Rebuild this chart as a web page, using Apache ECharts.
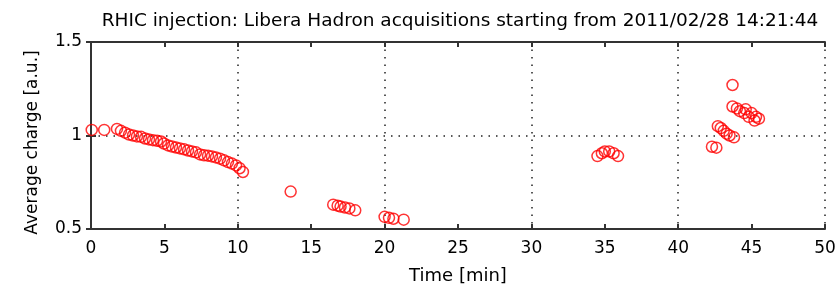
<!DOCTYPE html>
<html>
<head>
<meta charset="utf-8">
<script src="https://cdn.jsdelivr.net/npm/echarts@6/dist/echarts.min.js"></script>
<style>
  html, body { margin: 0; padding: 0; background: #fff; }
  #main { width: 840px; height: 290px; }
</style>
</head>
<body>
<div id="main"></div>
<script>
// time in minutes since the first acquisition
const timeMin = [
  0.05, 0.9, 1.77, 2.04, 2.32, 2.59, 2.86, 3.13, 3.41, 3.68, 3.95, 4.22, 4.5, 4.77,
  4.97, 5.25, 5.52, 5.79, 6.06, 6.34, 6.61, 6.88, 7.15, 7.43, 7.7, 7.97, 8.24, 8.51,
  8.79, 9.06, 9.33, 9.6, 9.88, 10.12, 10.35,
  13.6,
  16.5, 16.8, 17.0, 17.3, 17.6, 18.0,
  20.0, 20.3, 20.6, 21.3,
  34.5, 34.8, 35.0, 35.3, 35.6, 35.9,
  42.3, 42.6, 42.7, 42.9, 43.1, 43.3, 43.5, 43.8,
  43.7, 43.7, 44.0, 44.2, 44.5, 44.6, 44.8, 45.0, 45.2, 45.3, 45.5
];
const avgCharge = [
  1.03, 1.03, 1.035, 1.025, 1.015, 1.005, 1.0, 0.995, 0.993, 0.984, 0.979, 0.975, 0.972, 0.968,
  0.957, 0.947, 0.941, 0.936, 0.931, 0.926, 0.92, 0.915, 0.91, 0.899, 0.894, 0.892, 0.888, 0.883,
  0.876, 0.867, 0.858, 0.85, 0.84, 0.825, 0.805,
  0.70,
  0.63, 0.625, 0.62, 0.615, 0.61, 0.60,
  0.565, 0.56, 0.555, 0.55,
  0.89, 0.905, 0.915, 0.915, 0.905, 0.89,
  0.94, 0.935, 1.05, 1.04, 1.025, 1.01, 1.0, 0.99,
  1.27, 1.155, 1.145, 1.13, 1.12, 1.14, 1.10, 1.12, 1.08, 1.10, 1.09
];
const xTicks = [0, 50, 5];
const yTicks = [0.5, 1.5, 0.5];

const points = timeMin.map((t, i) => [t, avgCharge[i]]);
const font = 'DejaVu Sans';
const axisColor = '#333';

const myChart = echarts.init(document.getElementById('main'));
myChart.setOption({
  animation: false,
  backgroundColor: '#fff',
  title: {
    text: 'RHIC injection: Libera Hadron acquisitions starting from 2011/02/28 14:21:44',
    left: 455, top: 7, textAlign: 'center',
    textStyle: { fontFamily: font, fontSize: 18.5, fontWeight: 'normal', color: '#000' }
  },
  grid: { left: 91, right: 15, top: 42, bottom: 60 },
  xAxis: [{
    type: 'value', min: xTicks[0], max: xTicks[1], interval: xTicks[2],
    name: 'Time [min]', nameLocation: 'middle', nameGap: 38,
    nameTextStyle: { fontFamily: font, fontSize: 18, color: '#000' },
    axisLine: { lineStyle: { color: axisColor, width: 2 } },
    axisTick: { inside: true, length: 5, lineStyle: { color: axisColor, width: 2 } },
    axisLabel: { fontFamily: font, fontSize: 17, color: '#000', margin: 11 },
    splitLine: { show: false }
  }, {
    type: 'value', position: 'top', min: xTicks[0], max: xTicks[1], interval: xTicks[2],
    axisLine: { show: true, lineStyle: { color: axisColor, width: 2 } },
    axisTick: { inside: true, length: 5, lineStyle: { color: axisColor, width: 2 } },
    axisLabel: { show: false }, splitLine: { show: false }
  }, {
    type: 'value', min: 0, max: 50, interval: 10,
    axisLine: { show: false }, axisTick: { show: false }, axisLabel: { show: false },
    splitLine: { show: true, lineStyle: { color: '#222', width: 1.5, type: [1.5, 6] } }
  }],
  yAxis: [{
    type: 'value', min: yTicks[0], max: yTicks[1], interval: yTicks[2],
    name: 'Average charge [a.u.]', nameLocation: 'middle', nameGap: 50,
    nameTextStyle: { fontFamily: font, fontSize: 17, color: '#000', padding: [0, 14, 0, 0] },
    axisLine: { show: true, lineStyle: { color: axisColor, width: 2 } },
    axisTick: { show: true, inside: true, length: 5, lineStyle: { color: axisColor, width: 2 } },
    axisLabel: { fontFamily: font, fontSize: 17, color: '#000', margin: 9,
      formatter: v => String(v) },
    splitLine: { show: true, lineStyle: { color: '#222', width: 1.5, type: [1.5, 6] } }
  }, {
    type: 'value', position: 'right', min: yTicks[0], max: yTicks[1], interval: yTicks[2],
    axisLine: { show: true, lineStyle: { color: axisColor, width: 2 } },
    axisTick: { show: true, inside: true, length: 5, lineStyle: { color: axisColor, width: 2 } },
    axisLabel: { show: false }, splitLine: { show: false }
  }],
  series: [{
    type: 'scatter',
    xAxisIndex: 0, yAxisIndex: 0,
    data: points,
    symbol: 'circle',
    symbolSize: 11,
    itemStyle: { color: 'rgba(0,0,0,0)', borderColor: '#ff0000', borderWidth: 1.5 }
  }]
});
</script>
</body>
</html>
